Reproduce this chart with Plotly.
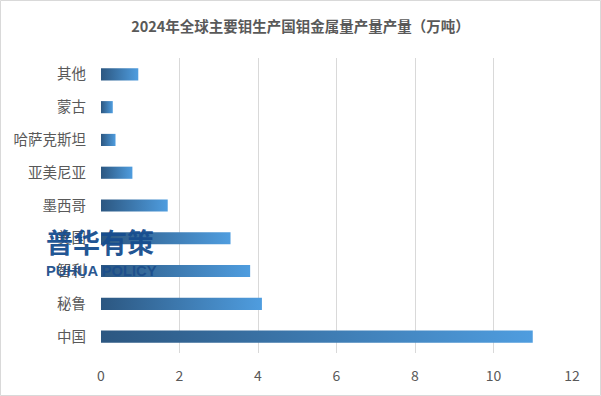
import plotly.graph_objects as go

categories = ["中国", "秘鲁", "智利", "美国", "墨西哥", "亚美尼亚", "哈萨克斯坦", "蒙古", "其他"]
values = [11.0, 4.1, 3.8, 3.3, 1.7, 0.8, 0.37, 0.3, 0.95]
x_ticks = [0, 2, 4, 6, 8, 10, 12]

title = "2024年全球主要钼生产国钼金属量产量产量（万吨）"
font_family = "Noto Sans CJK SC, Microsoft YaHei, sans-serif"

fig = go.Figure()
half = 0.185
for i, (cat, v) in enumerate(zip(categories, values)):
    fig.add_trace(go.Scatter(
        x=[0, v, v, 0, 0],
        y=[i - half, i - half, i + half, i + half, i - half],
        mode="lines",
        line=dict(width=0),
        fill="toself",
        fillgradient=dict(type="horizontal",
                          colorscale=[[0, "#2c5781"], [1, "#4f9ddf"]]),
        name=cat,
        hoverinfo="text",
        text=f"{cat}: {v}",
        showlegend=False,
    ))

fig.update_layout(
    width=601, height=396,
    margin=dict(l=101, r=29, t=58, b=43, autoexpand=False),
    paper_bgcolor="white", plot_bgcolor="white",
    title=dict(text=f"<b>{title}</b>", x=0.5, xanchor="center", y=0.932, yanchor="middle",
               font=dict(size=14.5, color="#595959", family=font_family)),
    font=dict(family=font_family, color="#595959"),
    xaxis=dict(range=[0, 12], tickvals=x_ticks, showgrid=True, gridcolor="#d9d9d9",
               gridwidth=1, zeroline=False, showline=False, ticks="", ticklabelstandoff=13,
               automargin=False,
               tickfont=dict(size=14, color="#595959"), fixedrange=True),
    yaxis=dict(range=[-0.5, 8.5], tickvals=list(range(len(categories))), ticktext=categories,
               showgrid=False, zeroline=False, showline=False, ticks="", ticklabelstandoff=14,
               automargin=False,
               tickfont=dict(size=14.5, color="#595959"), fixedrange=True),
    shapes=[dict(type="rect", xref="paper", yref="paper", x0=-100.5/471, x1=1 + 28.5/471,
                 y0=-42.5/295, y1=1 + 57.5/295, line=dict(color="#d9d9d9", width=1), layer="below")],
    annotations=[
        dict(text="<b>普华有策</b>", xref="paper", yref="paper", x=-57/471, y=(353-241)/295,
             xanchor="left", yanchor="middle", showarrow=False, opacity=0.95,
             font=dict(size=27, color="#164d8f", family=font_family)),
        dict(text="<b>PUHUA POLICY</b>", xref="paper", yref="paper", x=-57/471, y=(353-271)/295,
             xanchor="left", yanchor="middle", showarrow=False, opacity=0.95,
             font=dict(size=14.7, color="#1d4f8c", family="Liberation Sans, Arial, sans-serif")),
    ],
)

fig.write_html("out.html", config={"displayModeBar": False},
               post_script="document.body.style.margin='0';")
